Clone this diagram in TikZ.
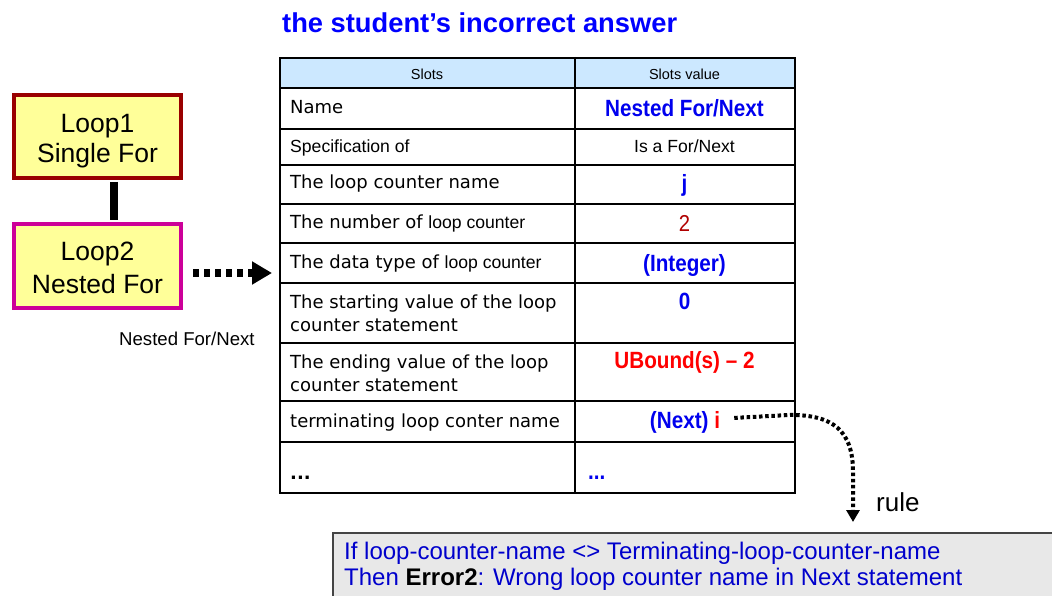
\documentclass[tikz,border=0pt]{standalone}
\usepackage{fontspec}
\setmainfont{Liberation Sans}
\newfontfamily\verd{DejaVu Sans}
\newfontfamily\narrowface[FakeStretch=0.88]{Liberation Sans}
\usetikzlibrary{arrows.meta,calc}

\definecolor{titleblue}{HTML}{0000FF}
\definecolor{valblue}{HTML}{0000EE}
\definecolor{darkred}{HTML}{B00000}
\definecolor{brightred}{HTML}{FF0000}
\definecolor{loopfill}{HTML}{FFFF99}
\definecolor{loopborderred}{HTML}{990000}
\definecolor{loopmagenta}{HTML}{CC0099}
\definecolor{headfill}{HTML}{CCE8FF}
\definecolor{rulefill}{HTML}{E8E8E8}
\definecolor{ruleborder}{HTML}{444444}
\definecolor{ruleblue}{HTML}{0000CC}

\newcommand{\fsz}[2]{\fontsize{#1}{#2}\selectfont}

\begin{document}
\begin{tikzpicture}[x=1pt,y=-1pt,
  loopbox/.style={draw, line width=4pt, fill=loopfill, minimum width=167pt,
    minimum height=83pt, inner sep=0pt},
  looptext/.style={align=center, font=\fsz{26.5}{33}, inner sep=0pt},
  lefttext/.style={anchor=base west, inner sep=0pt, font=\verd\fsz{18}{23}, align=left},
  valtext/.style={anchor=base, inner sep=0pt, font=\narrowface\bfseries\fsz{23.5}{28}, text=valblue},
  headtext/.style={anchor=base, inner sep=0pt, font=\fsz{14.5}{17}},
  gridline/.style={line width=1.2pt},
  bigdots/.style={line width=8pt, dash pattern=on 6pt off 5pt},
  smalldots/.style={line width=4pt, dash pattern=on 3.5pt off 2.7pt},
]
\useasboundingbox (0,0) rectangle (1052,596);

% title
\node[anchor=base west, inner sep=0pt, font=\bfseries\fsz{27.3}{32}, text=titleblue]
  (title) at (282,33) {the student’s incorrect answer};

% loop hierarchy
\node[loopbox, draw=loopborderred] (loop1) at (97.5,136.5) {};
\node[looptext, anchor=base] (loop1text) at (97.5,163) {Loop1\\[-3pt]Single For};
\node[loopbox, draw=loopmagenta] (loop2) at (97.5,266) {};
\node[looptext, anchor=base] (loop2text) at (97.5,293) {Loop2\\Nested For};
\draw[line width=8pt, shorten <=2pt, shorten >=2pt]
  ($(loop1.south)+(16.5,0)$) -- ($(loop2.north)+(16.5,0)$);
\node[anchor=base west, inner sep=0pt, font=\fsz{18.6}{22}] (nestlabel) at (119,345) {Nested For/Next};

% slot table
\fill[headfill] (279,57) rectangle (794,88);
\foreach \yy in {88,129,165,204,243,283,343,401,442}
  \draw[gridline] (279,\yy) -- (794,\yy);
\draw[gridline] (575,57) -- (575,492);
\node[draw, line width=1.8pt, minimum width=515pt, minimum height=435pt,
  anchor=north west, inner sep=0pt] (table) at (279,57) {};

\node[headtext] (hslots) at (427,80) {Slots};
\node[headtext] (hvalue) at (684.5,80) {Slots value};

\node[lefttext] (s1) at (290,114) {Name};
\node[lefttext, font=\fsz{17.6}{22}] (s2) at (290,153) {Specification of};
\node[lefttext] (s3) at (290,189) {The loop counter name};
\node[lefttext] (s4) at (290,229) {The number of {\rmfamily\fsz{17.6}{22}loop counter}};
\node[lefttext] (s5) at (290,269) {The data type of {\rmfamily\fsz{17.6}{22}loop counter}};
\node[lefttext] (s6) at (290,331) {The starting value of the loop\\counter statement};
\node[lefttext] (s7) at (290,391) {The ending value of the loop\\counter statement};
\node[lefttext] (s8) at (290,427) {terminating loop conter name};
\node[lefttext, font=\verd\bfseries\fsz{18}{23}] (s9) at (290,479) {...};

\node[valtext] (v1) at (684.5,117) {Nested For/Next};
\node[valtext, font=\fsz{17.6}{22}, text=black] (v2) at (684.5,153) {Is a For/Next};
\node[valtext] (v3) at (684.5,192) {j};
\node[valtext, font=\narrowface\fsz{23}{28}, text=darkred] (v4) at (684.5,232) {2};
\node[valtext] (v5) at (684.5,271) {(Integer)};
\node[valtext] (v6) at (684.5,309) {0};
\node[valtext, text=brightred] (v7) at (684.5,368) {UBound(s) – 2};
\node[valtext] (vnext) at (685,428) {(Next) \textcolor{brightred}{i}};
\node[valtext, anchor=base west] (v9) at (588,479) {...};

% arrow from the nested loop to its slot table
\draw[bigdots, -{Triangle[length=20pt,width=22pt]}]
  ($(loop2.east)+(10,7)$) -- ($(table.west |- loop2.east)+(-7,7)$);

% rule box
\node[draw=ruleborder, line width=1.5pt, fill=rulefill, anchor=north west,
  minimum width=740pt, minimum height=80pt, inner sep=0pt] (rulebox) at (332,532) {};
\node[anchor=base west, inner sep=0pt, align=left, font=\fsz{24}{26}, text=ruleblue]
  (ruletext) at (344,585)
  {If loop-counter-name <> Terminating-loop-counter-name\\
   Then \textcolor{black}{\bfseries Error2}: Wrong loop counter name in Next statement};
\coordinate (ruleIn) at ($(rulebox.north west)+(521,-10)$);
\node[anchor=base west, inner sep=0pt, font=\fsz{26}{30}] (rulelabel) at (876,511) {rule};

% dotted connector from the wrong value to the rule
\draw[smalldots, -{Triangle[length=12pt,width=13pt]}]
  ($(vnext.east)+(14,-4)$) -- ++(56,-3)
  .. controls +(42,0) and +(0,-42) .. ($(ruleIn)+(0,-50)$) -- (ruleIn);
\end{tikzpicture}
\end{document}
